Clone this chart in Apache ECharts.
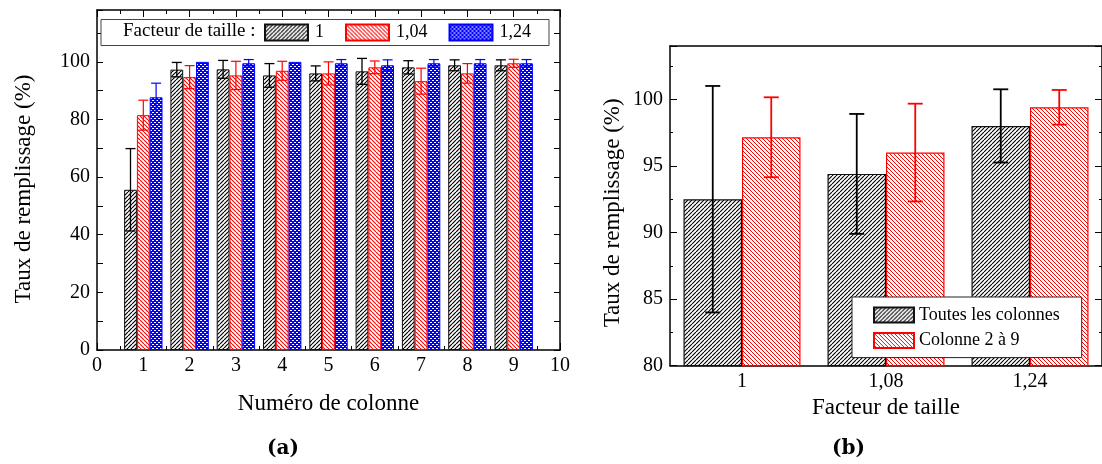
<!DOCTYPE html>
<html><head><meta charset="utf-8">
<script src="https://cdn.jsdelivr.net/npm/echarts@6.0.0/dist/echarts.min.js"></script>
<style>html,body{margin:0;padding:0;background:#fff}#c{width:1102px;height:464px}</style>
</head><body><div id="c"></div><script>
// ---------- data ----------
const colNumbers = [1, 2, 3, 4, 5, 6, 7, 8, 9];
const namesA = ['1', '1,04', '1,24'];
const fill1 = [55.6, 97.3, 97.4, 95.3, 96.0, 96.7, 98.1, 98.8, 98.8];
const err1 = [14.3, 2.5, 3.1, 4.1, 2.6, 4.5, 2.3, 1.9, 1.9];
const fill104 = [81.5, 94.7, 95.3, 96.9, 96.0, 98.1, 93.3, 96.0, 99.5];
const err104 = [5.2, 4.0, 4.9, 3.3, 4.0, 2.2, 4.5, 3.4, 1.4];
const fill124 = [87.7, 100, 99.5, 100, 99.5, 98.8, 99.5, 99.5, 99.5];
const err124 = [4.9, 0, 1.3, 0, 1.3, 1.9, 1.3, 1.3, 1.3];
const sizeFactors = ['1', '1,08', '1,24'];
const namesB = ['Toutes les colonnes', 'Colonne 2 à 9'];
const allCols = [92.5, 94.4, 98.0];
const allColsErr = [8.5, 4.5, 2.75];
const cols2to9 = [97.15, 96.0, 99.4];
const cols2to9Err = [3.0, 3.67, 1.3];

// ---------- styles ----------
const FONT = 'Liberation Serif';
const BW_A = 12.8, BW_B = 58.5;

function hatch(color, dir, n, lw) {
  const c = document.createElement('canvas'); c.width = n; c.height = n;
  const g = c.getContext('2d'); g.fillStyle = '#fff'; g.fillRect(0, 0, n, n);
  g.strokeStyle = color; g.lineWidth = lw; g.beginPath();
  for (let k = -1; k <= 1; k++) {
    if (dir > 0) { g.moveTo(k * n, n); g.lineTo(k * n + n, 0); }
    else { g.moveTo(k * n, 0); g.lineTo(k * n + n, n); }
  }
  g.stroke();
  return { image: c, repeat: 'repeat' };
}
function dots(color) {
  const c = document.createElement('canvas'); c.width = 4; c.height = 4;
  const g = c.getContext('2d'); g.fillStyle = color; g.fillRect(0, 0, 4, 4);
  g.fillStyle = '#fff'; g.fillRect(0, 0, 2, 1); g.fillRect(2, 2, 2, 1);
  return { image: c, repeat: 'repeat' };
}
const patBlack = hatch('#000', 1, 4, 1.2);
const patRed = hatch('#ff0000', -1, 4, 1.1);
const patBlue = dots('#0000ff');
const patBlackB = hatch('#000', 1, 4, 1.1);
const patRedB = hatch('#ff0000', -1, 4, 1.0);

function errRender(offset, cap, color, lw) {
  return function (params, api) {
    const x = api.value(0), y = api.value(1), e = api.value(2);
    if (!e) return null;
    const t = api.coord([x, y + e]), b = api.coord([x, y - e]);
    const cx = t[0] + offset;
    const st = { stroke: color, lineWidth: lw };
    return { type: 'group', children: [
      { type: 'line', shape: { x1: cx, y1: t[1], x2: cx, y2: b[1] }, style: st },
      { type: 'line', shape: { x1: cx - cap / 2, y1: t[1], x2: cx + cap / 2, y2: t[1] }, style: st },
      { type: 'line', shape: { x1: cx - cap / 2, y1: b[1], x2: cx + cap / 2, y2: b[1] }, style: st }
    ] };
  };
}

const lineS = { color: '#000', width: 1.5 };
const tickS = { color: '#000', width: 1 };
const lab = { fontFamily: FONT, fontSize: 20, color: '#000' };
const nameS = { fontFamily: FONT, fontSize: 23, color: '#000' };

const chart = echarts.init(document.getElementById('c'), null, { renderer: 'canvas' });
chart.setOption({
  animation: false,
  backgroundColor: '#fff',
  grid: [
    { left: 97, top: 10, width: 463, height: 340 },
    { left: 670, top: 46, width: 435, height: 319.7 }
  ],
  xAxis: [
    { gridIndex: 0, type: 'value', min: 0, max: 10, interval: 1, position: 'bottom',
      axisLine: { onZero: false, lineStyle: lineS },
      axisTick: { inside: true, length: 7, lineStyle: tickS },
      minorTick: { show: true, splitNumber: 2, length: 4, lineStyle: tickS },
      splitLine: { show: false }, minorSplitLine: { show: false },
      axisLabel: Object.assign({ margin: 6 }, lab),
      name: 'Numéro de colonne', nameLocation: 'middle', nameGap: 42, nameTextStyle: nameS },
    { gridIndex: 0, type: 'value', min: 0, max: 10, interval: 1, position: 'top',
      axisLine: { onZero: false, lineStyle: lineS },
      axisTick: { inside: true, length: 7, lineStyle: tickS },
      minorTick: { show: true, splitNumber: 2, length: 4, lineStyle: tickS },
      splitLine: { show: false }, minorSplitLine: { show: false },
      axisLabel: { show: false } },
    { gridIndex: 1, type: 'category', data: sizeFactors, position: 'bottom', boundaryGap: true,
      axisLine: { onZero: false, lineStyle: lineS },
      axisTick: { inside: true, alignWithLabel: true, length: 7, lineStyle: tickS },
      splitLine: { show: false },
      axisLabel: Object.assign({ margin: 6 }, lab),
      name: 'Facteur de taille', nameLocation: 'middle', nameGap: 27, nameTextStyle: nameS },
    { gridIndex: 1, type: 'category', data: sizeFactors, position: 'bottom', boundaryGap: true,
      axisLine: { show: false, onZero: false },
      axisTick: { inside: true, length: 3, lineStyle: tickS },
      splitLine: { show: false }, axisLabel: { show: false } },
    { gridIndex: 1, type: 'category', data: sizeFactors, position: 'top', boundaryGap: true,
      axisLine: { onZero: false, lineStyle: lineS },
      axisTick: { inside: true, alignWithLabel: true, length: 7, lineStyle: tickS },
      splitLine: { show: false }, axisLabel: { show: false } },
    { gridIndex: 1, type: 'category', data: sizeFactors, position: 'top', boundaryGap: true,
      axisLine: { show: false, onZero: false },
      axisTick: { inside: true, length: 3, lineStyle: tickS },
      splitLine: { show: false }, axisLabel: { show: false } }
  ],
  yAxis: [
    { gridIndex: 0, type: 'value', min: 0, max: 118, interval: 10, position: 'left',
      axisLine: { show: true, onZero: false, lineStyle: lineS },
      axisTick: { show: true, inside: true, length: 6, lineStyle: tickS },
      splitLine: { show: false },
      axisLabel: Object.assign({ margin: 7, formatter: v => (v % 20 === 0 && v <= 100) ? String(v) : '' }, lab),
      name: 'Taux de remplissage (%)', nameLocation: 'middle', nameGap: 62,
      nameTextStyle: Object.assign({ padding: [0, 18, 0, 0] }, nameS) },
    { gridIndex: 0, type: 'value', min: 0, max: 118, interval: 10, position: 'right',
      axisLine: { show: true, onZero: false, lineStyle: lineS },
      axisTick: { show: true, inside: true, length: 6, lineStyle: tickS },
      splitLine: { show: false }, axisLabel: { show: false } },
    { gridIndex: 1, type: 'value', min: 80, max: 104, interval: 5, position: 'left',
      axisLine: { show: true, onZero: false, lineStyle: lineS },
      axisTick: { show: true, inside: true, length: 7, lineStyle: tickS },
      splitLine: { show: false },
      axisLabel: Object.assign({ margin: 7, formatter: v => (v <= 100) ? String(v) : '' }, lab),
      name: 'Taux de remplissage (%)', nameLocation: 'middle', nameGap: 46,
      nameTextStyle: Object.assign({ padding: [0, 14, 0, 0] }, nameS) },
    { gridIndex: 1, type: 'value', min: 80, max: 104, interval: 2.5, position: 'left',
      axisLine: { show: false, onZero: false },
      axisTick: { show: true, inside: true, length: 3, lineStyle: tickS },
      splitLine: { show: false }, axisLabel: { show: false } },
    { gridIndex: 1, type: 'value', min: 80, max: 104, interval: 5, position: 'right',
      axisLine: { show: true, onZero: false, lineStyle: lineS },
      axisTick: { show: true, inside: true, length: 7, lineStyle: tickS },
      splitLine: { show: false }, axisLabel: { show: false } },
    { gridIndex: 1, type: 'value', min: 80, max: 104, interval: 2.5, position: 'right',
      axisLine: { show: false, onZero: false },
      axisTick: { show: true, inside: true, length: 3, lineStyle: tickS },
      splitLine: { show: false }, axisLabel: { show: false } }
  ],
  legend: [
    { data: namesA, left: 101, top: 19.5, orient: 'horizontal', icon: 'rect',
      padding: [4, 18, 4, 163], itemWidth: 43, itemHeight: 16, itemGap: 21,
      borderColor: '#444', borderWidth: 1, backgroundColor: '#fff',
      textStyle: { fontFamily: FONT, fontSize: 18, lineHeight: 16, color: '#000', padding: [0, 0, 0, 2] } },
    { data: namesB, left: 852, top: 297, orient: 'vertical', icon: 'rect',
      padding: [9, 22, 8, 21], itemWidth: 40, itemHeight: 15, itemGap: 7.6,
      borderColor: '#222', borderWidth: 1, backgroundColor: '#fff',
      textStyle: { fontFamily: FONT, fontSize: 18, lineHeight: 15, color: '#000' } }
  ],
  graphic: [
    { type: 'text', left: 123, top: 22, z: 100,
      style: { text: 'Facteur de taille :', fontFamily: FONT, fontSize: 19, fill: '#000' } },
    { type: 'text', left: 267, top: 439, z: 100,
      style: { text: '(a)', fontFamily: 'DejaVu Serif', fontWeight: 'bold', fontSize: 20, fill: '#000' } },
    { type: 'text', left: 832, top: 439, z: 100,
      style: { text: '(b)', fontFamily: 'DejaVu Serif', fontWeight: 'bold', fontSize: 20, fill: '#000' } }
  ],
  series: [
    { type: 'bar', name: namesA[0], xAxisIndex: 0, yAxisIndex: 0, barWidth: BW_A, barGap: '0%',
      data: colNumbers.map((c, i) => [c, fill1[i]]),
      itemStyle: { color: patBlack, borderColor: '#111', borderWidth: 1 } },
    { type: 'bar', name: namesA[1], xAxisIndex: 0, yAxisIndex: 0, barWidth: BW_A, barGap: '0%',
      data: colNumbers.map((c, i) => [c, fill104[i]]),
      itemStyle: { color: patRed, borderColor: '#ff0000', borderWidth: 1 } },
    { type: 'bar', name: namesA[2], xAxisIndex: 0, yAxisIndex: 0, barWidth: BW_A, barGap: '0%',
      data: colNumbers.map((c, i) => [c, fill124[i]]),
      itemStyle: { color: patBlue, borderColor: '#0000ff', borderWidth: 1 } },
    { type: 'custom', name: 'e1', xAxisIndex: 0, yAxisIndex: 0, z: 5, clip: false,
      encode: { x: 0, y: 1 }, renderItem: errRender(-BW_A, 10, '#000', 1.3),
      data: colNumbers.map((c, i) => [c, fill1[i], err1[i]]) },
    { type: 'custom', name: 'e2', xAxisIndex: 0, yAxisIndex: 0, z: 5, clip: false,
      encode: { x: 0, y: 1 }, renderItem: errRender(0, 10, '#ff0000', 1.2),
      data: colNumbers.map((c, i) => [c, fill104[i], err104[i]]) },
    { type: 'custom', name: 'e3', xAxisIndex: 0, yAxisIndex: 0, z: 5, clip: false,
      encode: { x: 0, y: 1 }, renderItem: errRender(BW_A, 10, '#0000ff', 1.2),
      data: colNumbers.map((c, i) => [c, fill124[i], err124[i]]) },
    { type: 'bar', name: namesB[0], xAxisIndex: 2, yAxisIndex: 2, barWidth: BW_B, barGap: '0%',
      data: allCols,
      itemStyle: { color: patBlackB, borderColor: '#111', borderWidth: 1.2 } },
    { type: 'bar', name: namesB[1], xAxisIndex: 2, yAxisIndex: 2, barWidth: BW_B, barGap: '0%',
      data: cols2to9,
      itemStyle: { color: patRedB, borderColor: '#ff0000', borderWidth: 1.2 } },
    { type: 'custom', name: 'e4', xAxisIndex: 2, yAxisIndex: 2, z: 5, clip: false,
      encode: { x: 0, y: 1 }, renderItem: errRender(-BW_B / 2, 15, '#000', 1.8),
      data: allCols.map((v, i) => [i, v, allColsErr[i]]) },
    { type: 'custom', name: 'e5', xAxisIndex: 2, yAxisIndex: 2, z: 5, clip: false,
      encode: { x: 0, y: 1 }, renderItem: errRender(BW_B / 2, 15, '#ff0000', 1.8),
      data: cols2to9.map((v, i) => [i, v, cols2to9Err[i]]) }
  ]
});
</script></body></html>
